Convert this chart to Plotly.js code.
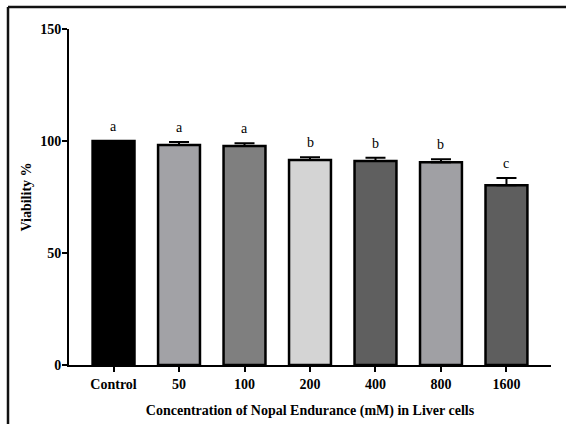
<!DOCTYPE html>
<html>
<head>
<meta charset="utf-8">
<script src="https://cdn.plot.ly/plotly-3.0.1.min.js"></script>
<style>html,body{margin:0;padding:0;background:#fff;}#chart{width:566px;height:424px;}</style>
</head>
<body>
<div id="chart"></div>
<script>
const categories = ["Control", "50", "100", "200", "400", "800", "1600"];
const viability = [100, 98.2, 97.8, 91.5, 91.1, 90.5, 80.2];
const errorUp = [0, 1.4, 1.2, 1.3, 1.4, 1.4, 3.3];
const letters = ["a", "a", "a", "b", "b", "b", "c"];
const barColors = ["#000000", "#a2a2a6", "#7f7f7f", "#d4d4d4", "#5f5f5f", "#a0a0a4", "#5e5e5e"];
const yTicks = [0, 50, 100, 150];

const serif = "Liberation Serif";

const trace = {
  type: "bar",
  x: categories,
  y: viability,
  width: 0.64,
  marker: { color: barColors, line: { color: "#000", width: 2.5 } },
  error_y: {
    type: "data", symmetric: false, array: errorUp,
    arrayminus: errorUp.map(() => 0),
    color: "#000", thickness: 2, width: 10
  },
  hoverinfo: "none"
};

const annotations = categories.map((c, i) => ({
  x: i, y: viability[i] + errorUp[i], xref: "x", yref: "y",
  text: letters[i], showarrow: false, yanchor: "bottom", yshift: 5,
  font: { family: serif, size: 14, color: "#000" }
}));

const layout = {
  width: 566, height: 424,
  margin: { l: 69, r: 15, t: 29, b: 59 },
  paper_bgcolor: "#fff", plot_bgcolor: "#fff",
  showlegend: false,
  font: { family: serif, color: "#000" },
  xaxis: {
    type: "category", range: [-0.68, 6.68],
    showline: true, linecolor: "#000", linewidth: 2,
    ticks: "outside", ticklen: 5, tickwidth: 2, tickcolor: "#000",
    showgrid: false, zeroline: false,
    tickfont: { family: serif, size: 14, color: "#000", weight: "bold" },
    title: { text: "<b>Concentration of Nopal Endurance (mM) in Liver cells</b>", font: { family: serif, size: 14, color: "#000" }, standoff: 14 }
  },
  yaxis: {
    range: [0, 150], tickvals: yTicks, ticktext: yTicks.map(String),
    showline: true, linecolor: "#000", linewidth: 2,
    ticks: "outside", ticklen: 5, tickwidth: 2, tickcolor: "#000",
    ticklabelstandoff: -2,
    showgrid: false, zeroline: false,
    tickfont: { family: serif, size: 14, color: "#000", weight: "bold" },
    title: { text: "<b>Viability %</b>", font: { family: serif, size: 14, color: "#000" }, standoff: 5 }
  },
  annotations: annotations,
  shapes: [
    { type: "line", xref: "paper", yref: "paper", x0: (8 - 69) / 482, x1: (566 - 69) / 482, y0: (365 - 7) / 336, y1: (365 - 7) / 336, line: { color: "#111", width: 2.5 } },
    { type: "line", xref: "paper", yref: "paper", x0: (8 - 69) / 482, x1: (8 - 69) / 482, y0: (365 - 7) / 336, y1: (365 - 425) / 336, line: { color: "#111", width: 2.5 } }
  ]
};

Plotly.newPlot("chart", [trace], layout, { displayModeBar: false, staticPlot: true });
</script>
</body>
</html>
